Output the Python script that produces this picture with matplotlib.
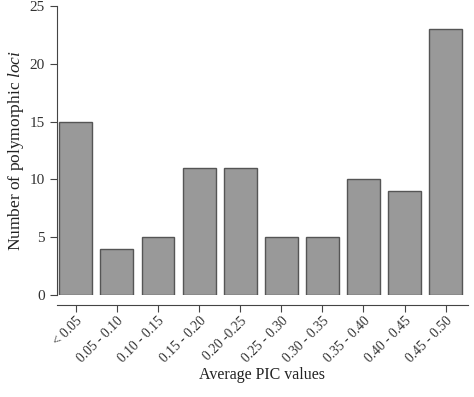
import matplotlib
matplotlib.use("Agg")
import matplotlib.pyplot as plt

plt.rcParams["font.family"] = "Liberation Serif"
plt.rcParams["mathtext.fontset"] = "custom"
plt.rcParams["mathtext.rm"] = "Liberation Serif"
plt.rcParams["mathtext.it"] = "Liberation Serif:italic"

categorias = ["< 0.05", "0.05 - 0.10", "0.10 - 0.15", "0.15 - 0.20", "0.20 -0.25",
              "0.25 - 0.30", "0.30 - 0.35", "0.35 - 0.40", "0.40 - 0.45", "0.45 - 0.50"]
n_loci = [15, 4, 5, 11, 11, 5, 5, 10, 9, 23]

fig = plt.figure(figsize=(4.74, 3.97), dpi=100)
ax = fig.add_axes([0.120, 0.257, 0.867, 0.728])

pos = list(range(len(categorias)))
ax.bar(pos, n_loci, width=0.8, color="#999999", edgecolor="#555555", linewidth=1.0)

ax.set_xlim(-0.46, 9.54)
ax.set_ylim(0, 25)
ax.set_yticks([0, 5, 10, 15, 20, 25])
ax.set_xticks(pos)

for s in ["top", "right"]:
    ax.spines[s].set_visible(False)
ax.spines["bottom"].set_position(("outward", 7))
ax.spines["left"].set_color("#444444")
ax.spines["bottom"].set_color("#444444")
ax.tick_params(axis="both", direction="out", length=5, color="#444444", labelsize=11, labelcolor="#333333")
ax.tick_params(axis="x", pad=2)

ax.set_xticklabels(categorias)
for lbl in ax.get_xticklabels():
    lbl.set_rotation(45)
    lbl.set_ha("right")
    lbl.set_rotation_mode("anchor")
    lbl.set_fontsize(9.8)

ax.set_ylabel(r"Number of polymorphic $\it{loci}$", fontsize=12.5, color="#222222", labelpad=3)
ax.set_xlabel("Average PIC values", fontsize=11.5, color="#222222", labelpad=1)

plt.savefig("out.png", dpi=100)
